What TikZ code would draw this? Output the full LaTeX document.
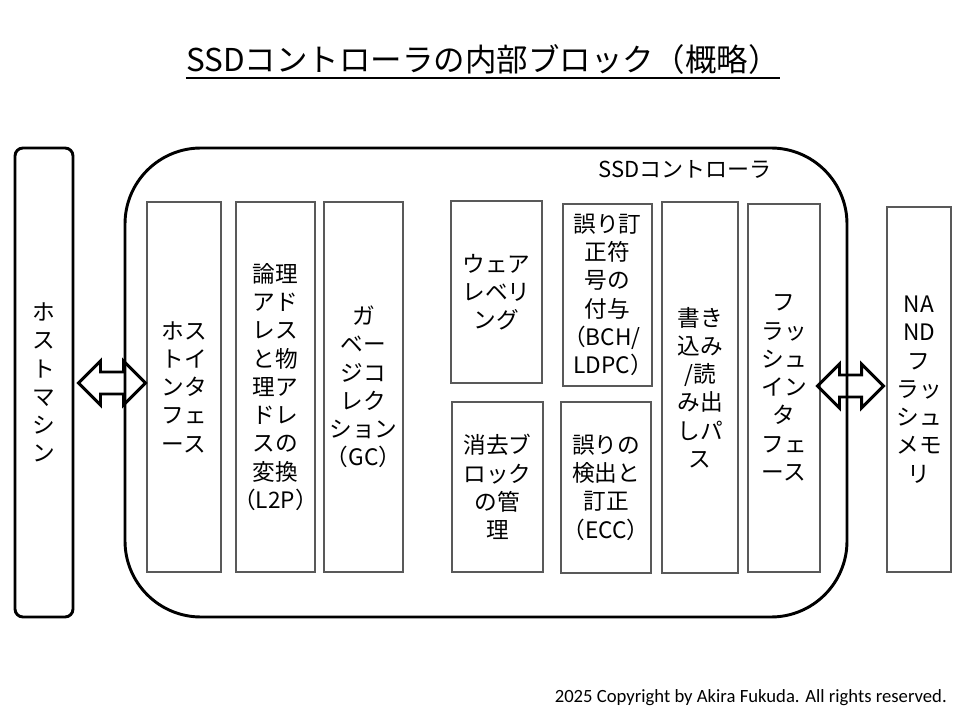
\documentclass[tikz,border=0pt]{standalone}
\usepackage{fontspec}
\setmainfont{Noto Sans CJK JP}
\newfontfamily\jph[RawFeature=+halt]{Noto Sans CJK JP}
\newfontfamily\footfont{Carlito}
\newcommand\lp{{\jph（}}
\newcommand\rp{{\jph）}}
\usetikzlibrary{calc}
\definecolor{boxgray}{HTML}{595959}
\tikzset{
  blk/.style={draw=boxgray, line width=2.2pt, rectangle, align=center, inner sep=0pt,
    font=\fontsize{17}{21.2}\selectfont},
  outer/.style={draw=black, line width=2.2pt, rectangle, align=center, inner sep=0pt,
    font=\fontsize{17}{21.2}\selectfont},
  blockarrow/.style={draw=black, line width=2.2pt, line join=miter},
}
\newcommand\dblarrow[2]{%
  \draw[blockarrow] let \p1=(#1), \p2=(#2) in
    (\x1,\y1) -- (\x1+16.5pt,\y1+16.5pt) -- (\x1+16.5pt,\y1+8.25pt)
    -- (\x2-16.5pt,\y1+8.25pt) -- (\x2-16.5pt,\y1+16.5pt) -- (\x2,\y1)
    -- (\x2-16.5pt,\y1-16.5pt) -- (\x2-16.5pt,\y1-8.25pt)
    -- (\x1+16.5pt,\y1-8.25pt) -- (\x1+16.5pt,\y1-16.5pt) -- cycle;}
\begin{document}
\begin{tikzpicture}[x=0.75pt,y=-0.75pt]
\useasboundingbox (0,0) rectangle (960,720);
\fill[white] (0,0) rectangle (960,720);
% title
\node[font=\fontsize{23.6}{28}\selectfont, inner sep=0pt, anchor=base] (title) at (483,71.5) {SSDコントローラの内部ブロック（概略）};
\draw[line width=1.8pt] (title.west |- 0,78) coordinate (ul1) -- (title.east |- 0,78) coordinate (ul2);
% host machine
\node[outer, rounded corners=6pt, minimum width=43.5pt, minimum height=351.75pt] (host) at (44,382.5)
  {ホ\\ス\\ト\\マ\\シ\\ン};
% controller
\node[outer, rounded corners=57pt, minimum width=541.5pt, minimum height=351.75pt] (ctrl) at (486,382.5) {};
\node[font=\fontsize{16.5}{21}\selectfont, inner sep=0pt] (ctrllabel) at (685,169) {SSDコントローラ};
% blocks
\node[blk, minimum width=55.5pt, minimum height=277.5pt] (b1) at (184,387)
  {ホス\\トイ\\ンタ\\フェ\\ース};
\node[blk, minimum width=59.25pt, minimum height=277.5pt] (b2) at (275.5,387)
  {論理\\アド\\レス\\と物\\理ア\\ドレ\\スの\\変換\\\lp L2P\rp};
\node[blk, minimum width=59.25pt, minimum height=277.5pt] (b3) at (363.5,387)
  {ガ\\ベー\\ジコ\\レク\\ション\\\lp GC\rp};
\node[blk, minimum width=68.25pt, minimum height=136.5pt] (b4) at (496.5,292)
  {ウェア\\レベリ\\ング};
\node[blk, minimum width=68.25pt, minimum height=127.5pt] (b5) at (497.5,487)
  {消去ブ\\ロック\\の管\\理};
\node[blk, minimum width=66.75pt, minimum height=136.5pt] (b6) at (607.5,295)
  {誤り訂\\正符\\号の\\付与\\\lp BCH/\\LDPC\rp};
\node[blk, minimum width=67.5pt, minimum height=128.25pt] (b7) at (606,487.5)
  {誤りの\\検出と\\訂正\\\lp ECC\rp};
\node[blk, minimum width=57pt, minimum height=278.25pt] (b8) at (700,387.5)
  {書き\\込み\\/読\\み出\\しパ\\ス};
\node[blk, minimum width=54pt, minimum height=276pt] (b9) at (784,388)
  {フ\\ラッ\\シュ\\イン\\タ\\フェ\\ース};
\node[blk, minimum width=48pt, minimum height=273.75pt] (nand) at (919,389.5)
  {NA\\ND\\フ\\ラッ\\シュ\\メモ\\リ};
% arrows
\coordinate (la) at ($(host.east)+(4,0.5)$);
\coordinate (lb) at (b1.west |- la);
\dblarrow{la}{lb}
\coordinate (ra) at ($(b9.east)+(-4,-2)$);
\coordinate (rb) at ($(nand.west |- ra)+(-2,0)$);
\dblarrow{ra}{rb}
% footer
\node[font=\footfont\fontsize{14}{16}\selectfont, anchor=east, inner sep=0pt] (foot) at (947,698)
  {2025 Copyright by Akira Fukuda. All rights reserved.};
\end{tikzpicture}
\end{document}
